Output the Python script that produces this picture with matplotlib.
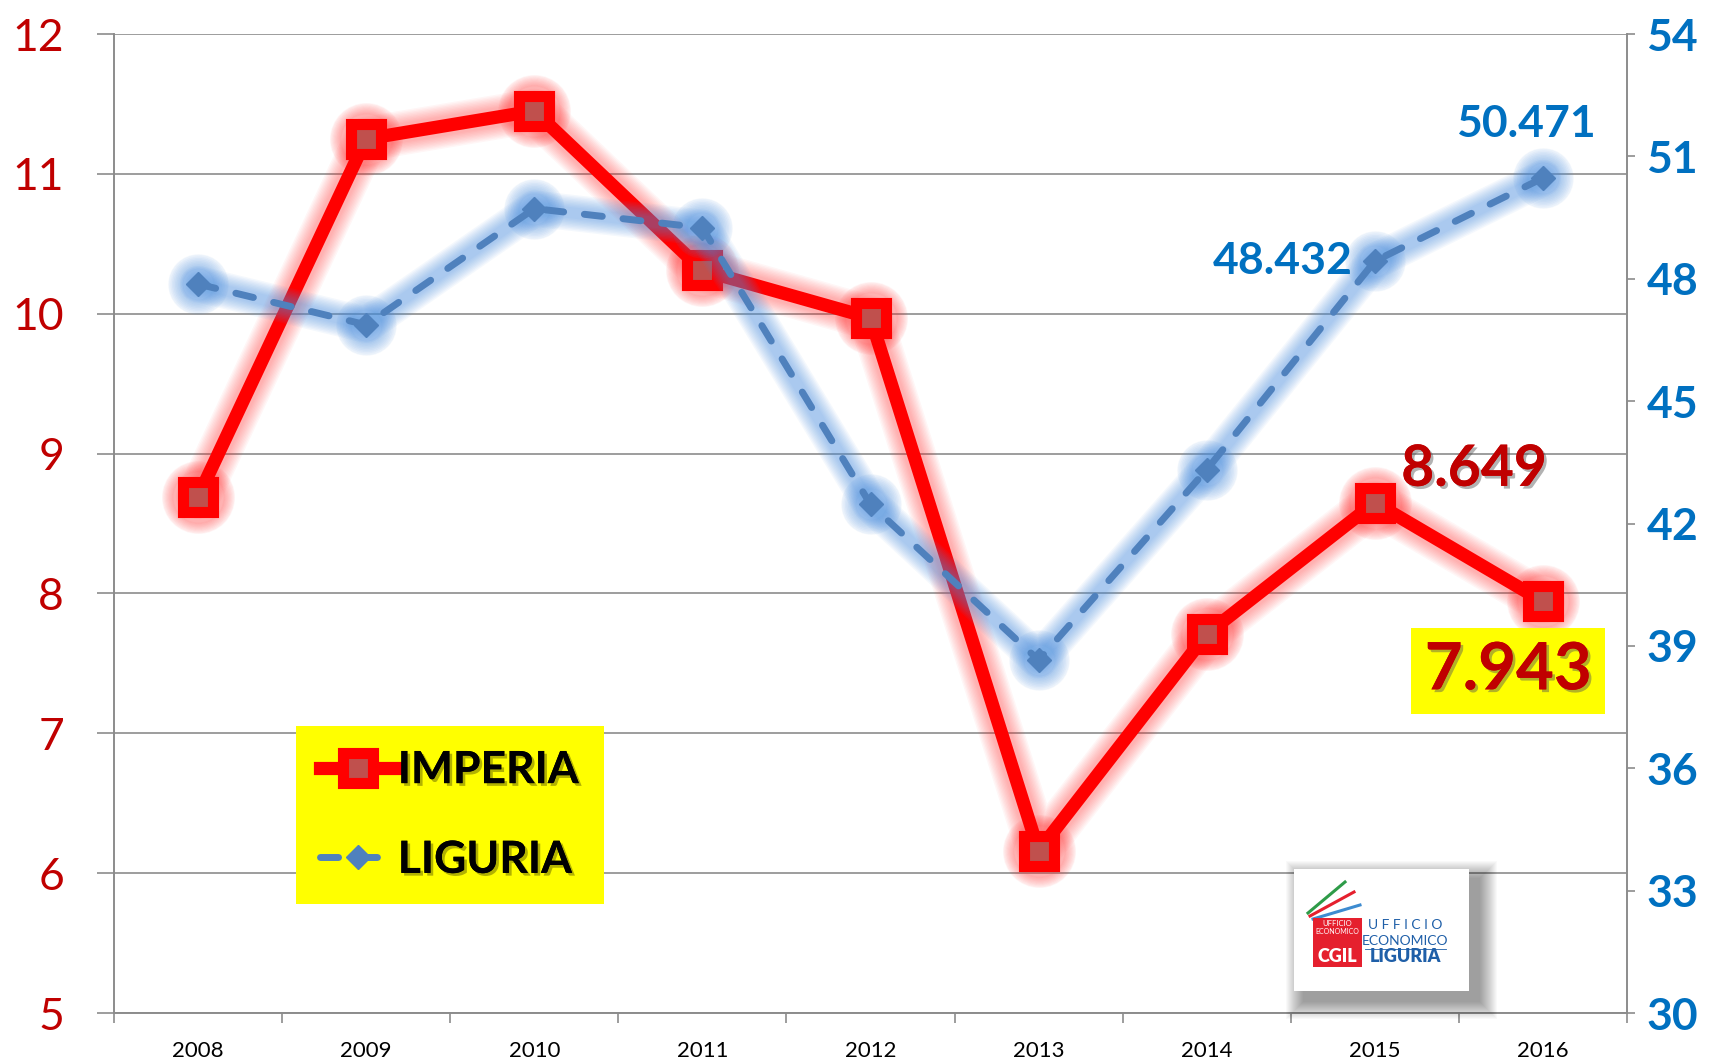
import matplotlib
matplotlib.use("Agg")
import matplotlib.pyplot as plt
import matplotlib.patheffects as pe
from matplotlib.patches import Rectangle
from matplotlib.lines import Line2D
import numpy as np

plt.rcParams['font.family'] = ['Lato', 'DejaVu Sans']

years = ["2008", "2009", "2010", "2011", "2012", "2013", "2014", "2015", "2016"]
imperia = [8.69, 11.25, 11.45, 10.31, 9.97, 6.16, 7.71, 8.649, 7.943]
liguria = [47.87, 46.87, 49.72, 49.25, 42.47, 38.65, 43.32, 48.432, 50.471]
left_ticks = [5, 6, 7, 8, 9, 10, 11, 12]
right_ticks = [30, 33, 36, 39, 42, 45, 48, 51, 54]
right_labels = ["30", "33", "36", "39", "42", "45", "48", "51", "54"]

W, H = 1735, 1058
fig = plt.figure(figsize=(W / 100, H / 100), dpi=100)

def fx(px):
    return px / W

def fy(py):
    return 1 - py / H

ax_l, ax_r, ax_t, ax_b = 114, 1627, 34, 1013
ax = fig.add_axes([fx(ax_l), fy(ax_b), fx(ax_r - ax_l), (ax_b - ax_t) / H])
ax2 = ax.twinx()
ax.set_zorder(1)
ax2.set_zorder(2)
ax.patch.set_visible(False)
ax2.patch.set_visible(False)

x = np.arange(len(years))
grid_c = '#8C8C8C'

ax.set_ylim(5, 12)
ax.set_yticks(left_ticks)
ax.set_xlim(-0.5, len(years) - 0.5)
for t in left_ticks:
    ax.axhline(t, color=grid_c, lw=1.2, zorder=0)
ax2.set_ylim(30, 54)
ax2.set_yticks(right_ticks)
ax2.set_yticklabels(right_labels)

for a in (ax, ax2):
    a.spines['top'].set_visible(False)
    for s in ('left', 'right', 'bottom'):
        a.spines[s].set_color(grid_c)
        a.spines[s].set_linewidth(1.2)

ax.tick_params(axis='y', direction='out', length=12, width=1.2, color=grid_c,
               labelsize=32, labelcolor='#C00000', pad=24)
ax2.tick_params(axis='y', direction='out', length=6, width=1.2, color=grid_c,
                labelsize=32, labelcolor='#0070C0', pad=8)
for lab in ax2.get_yticklabels():
    lab.set_fontweight('bold')

ax.set_xticks(np.arange(-0.5, len(years), 1.0))
ax.set_xticklabels([])
ax.set_xticks(x, minor=True)
ax.set_xticklabels(years, minor=True)
ax.tick_params(axis='x', which='major', direction='out', length=7, width=1.2, color=grid_c)
ax.tick_params(axis='x', which='minor', length=0, labelsize=16, pad=20, labelcolor='black')
ax2.tick_params(axis='x', which='both', length=0)

# glow for Imperia
for lw in np.arange(32, 12, -2):
    al = 0.045
    ax.plot(x, imperia, color='#FF3030', lw=lw, alpha=al, solid_capstyle='round',
            solid_joinstyle='round', zorder=2)
    ax.plot(x, imperia, ls='none', marker='o', ms=26 + lw * 0.8, color='#FF3030',
            alpha=al, zorder=2)
l1, = ax.plot(x, imperia, color='#FF0000', lw=9.5, marker='s', ms=21, mew=8,
              mec='#FF0000', mfc='#C0504D', solid_joinstyle='round', zorder=3,
              label='IMPERIA')

# glow for Liguria
for lw in np.arange(26, 6, -2):
    al = 0.06
    ax2.plot(x, liguria, color='#4A90E2', lw=lw, alpha=al, solid_capstyle='round', zorder=2)
    ax2.plot(x, liguria, ls='none', marker='o', ms=14 + lw * 1.1, color='#4A90E2',
             alpha=al, zorder=2)
l2, = ax2.plot(x, liguria, color='#4F81BD', lw=5, ls=(0, (2.6, 3.0)), dash_capstyle='round',
               marker='D', ms=12, mfc='#4F81BD', mec='#4F81BD', zorder=3, label='LIGURIA')

shadow = [pe.withSimplePatchShadow(offset=(2, -2), shadow_rgbFace='#555555', alpha=0.45),
          pe.Normal()]

ax2.annotate("50.471", (x[8], liguria[8]), xytext=(-12, 39), textcoords='offset points',
             ha='center', va='center', fontsize=32, fontweight='bold', color='#0070C0', zorder=5)
ax2.annotate("48.432", (x[7], liguria[7]), xytext=(-16, 0), textcoords='offset points',
             ha='right', va='center', fontsize=32, fontweight='bold', color='#0070C0', zorder=5)
ax.annotate("8.649", (x[7], imperia[7]), xytext=(19, 24), textcoords='offset points',
            ha='left', va='center', fontsize=41, fontweight='bold', color='#C00000',
            path_effects=shadow, zorder=5)
ax.annotate("7.943", (x[8], imperia[8]),
            xytext=(-25, -50), textcoords='offset points',
            ha='center', va='center', fontsize=47, fontweight='bold', color='#C00000',
            path_effects=shadow, zorder=6,
            bbox=dict(boxstyle='square,pad=0.21', fc='#FFFF00', ec='none'))

# legend
leg = ax2.legend(handles=[l1, l2], loc='lower left', bbox_to_anchor=(0.12, 0.111),
                 frameon=True, fancybox=False, facecolor='#FFFF00', edgecolor='none',
                 framealpha=1, prop={'size': 32, 'weight': 'bold'}, handlelength=1.7,
                 handletextpad=0.05, labelspacing=1.12, borderpad=0.55, borderaxespad=0,
                 numpoints=1)
for txt in leg.get_texts():
    txt.set_path_effects([pe.withSimplePatchShadow(offset=(2, -2), shadow_rgbFace='#666600',
                                                   alpha=0.5), pe.Normal()])
leg.set_zorder(10)

# logo box with soft shadow
lx0, ly0, lx1, ly1 = 1294, 869, 1469, 991
so = 10
for r in range(18, 0, -1):
    fig.patches.append(Rectangle((fx(lx0 + so - r), fy(ly1 + so + r)),
                                 fx(lx1 - lx0 + 2 * r), (ly1 - ly0 + 2 * r) / H,
                                 transform=fig.transFigure, fc='#000000', ec='none',
                                 alpha=0.025, zorder=20))
fig.patches.append(Rectangle((fx(lx0), fy(ly1)), fx(lx1 - lx0), (ly1 - ly0) / H,
                             transform=fig.transFigure, fc='white', ec='none', zorder=21))
fig.patches.append(Rectangle((fx(1313), fy(967)), fx(49), 49 / H, transform=fig.transFigure,
                             fc='#E5202E', ec='none', zorder=22))
for (x0, y0, x1, y1, c) in [(1308, 913, 1345, 882, '#2E9B48'), (1310, 916, 1354, 892, '#E5202E'),
                            (1313, 919, 1360, 905, '#3D8BD0')]:
    fig.add_artist(Line2D([fx(x0), fx(x1)], [fy(y0), fy(y1)], transform=fig.transFigure,
                          color=c, lw=2.2, zorder=22))
fig.text(fx(1337.5), fy(924), "UFFICIO", color='white', fontsize=5.5, ha='center',
         va='center', zorder=23)
fig.text(fx(1337.5), fy(932), "ECONOMICO", color='white', fontsize=5, ha='center',
         va='center', zorder=23)
fig.text(fx(1337.5), fy(956), "CGIL", color='white', fontsize=13, fontweight='heavy',
         ha='center', va='center', zorder=23)
fig.text(fx(1405), fy(925), "U F F I C I O", color='#1F5FA8', fontsize=10, ha='center',
         va='center', zorder=23)
fig.text(fx(1405), fy(941), "ECONOMICO", color='#1F5FA8', fontsize=10, ha='center',
         va='center', zorder=23)
fig.add_artist(Line2D([fx(1365), fx(1446)], [fy(949), fy(949)], transform=fig.transFigure,
                      color='#1F5FA8', lw=0.6, zorder=23))
fig.text(fx(1405), fy(957), "LIGURIA", color='#1F5FA8', fontsize=13, fontweight='heavy',
         ha='center', va='center', zorder=23)

fig.savefig("out.png", dpi=100, facecolor='white')
